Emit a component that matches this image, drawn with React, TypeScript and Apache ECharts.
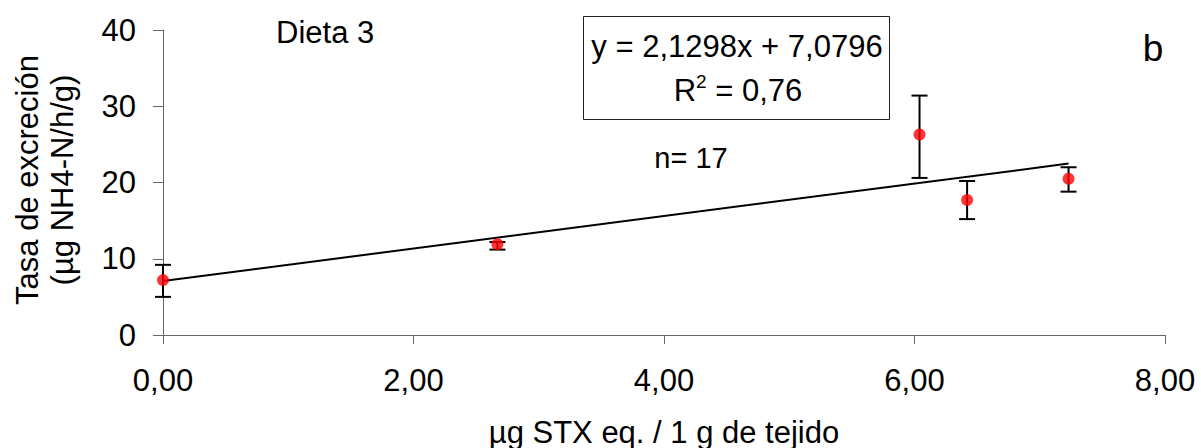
import React, { useEffect, useRef } from "react";
import * as echarts from "echarts";

const xValues = [0, 2.67, 6.04, 6.42, 7.23];
const yValues = [7.2, 11.9, 26.3, 17.7, 20.5];
const errLow = [5.0, 11.2, 20.6, 15.2, 18.8];
const errHigh = [9.2, 12.2, 31.4, 20.2, 22.0];
const slope = 2.1298;
const intercept = 7.0796;
const trendX = [0, 7.23];
const xTicks = [0, 2, 4, 6, 8];
const yTicks = [0, 10, 20, 30, 40];

const FONT = "'Liberation Sans', Arial, sans-serif";

export default function App() {
  const ref = useRef<HTMLDivElement>(null);
  useEffect(() => {
    if (!ref.current) return;
    const chart = echarts.init(ref.current, null, { renderer: "svg" });
    const fmt = (v: number) => v.toFixed(2).replace(".", ",");
    chart.setOption({
      animation: false,
      backgroundColor: "#ffffff",
      textStyle: { fontFamily: FONT },
      grid: { left: 163, right: 36, top: 30, bottom: 113, containLabel: false },
      xAxis: {
        type: "value",
        min: xTicks[0],
        max: xTicks[xTicks.length - 1],
        interval: 2,
        axisLine: { show: true, onZero: false, lineStyle: { color: "#666", width: 1 } },
        axisTick: { show: true, length: 9, lineStyle: { color: "#666", width: 1 } },
        splitLine: { show: false },
        axisLabel: {
          margin: 30,
          fontSize: 31,
          color: "#000",
          fontFamily: FONT,
          formatter: fmt,
        },
      },
      yAxis: {
        type: "value",
        min: yTicks[0],
        max: yTicks[yTicks.length - 1],
        interval: 10,
        axisLine: { show: true, onZero: false, lineStyle: { color: "#666", width: 1 } },
        axisTick: { show: true, length: 10, lineStyle: { color: "#666", width: 1 } },
        splitLine: { show: false },
        axisLabel: { margin: 27, fontSize: 31, color: "#000", fontFamily: FONT },
      },
      series: [
        {
          type: "line",
          data: trendX.map((x) => [x, slope * x + intercept]),
          symbol: "none",
          lineStyle: { color: "#000", width: 2 },
          z: 2,
        },
        {
          type: "custom",
          data: xValues.map((x, i) => [x, errLow[i], errHigh[i]]),
          encode: { x: 0, y: [1, 2] },
          z: 3,
          renderItem: (params: any, api: any) => {
            const x = api.value(0);
            const lo = api.coord([x, api.value(1)]);
            const hi = api.coord([x, api.value(2)]);
            const hw = 8;
            const style = { stroke: "#000", lineWidth: 2 };
            return {
              type: "group",
              children: [
                { type: "line", shape: { x1: lo[0], y1: lo[1], x2: hi[0], y2: hi[1] }, style },
                { type: "line", shape: { x1: lo[0] - hw, y1: lo[1], x2: lo[0] + hw, y2: lo[1] }, style },
                { type: "line", shape: { x1: hi[0] - hw, y1: hi[1], x2: hi[0] + hw, y2: hi[1] }, style },
              ],
            };
          },
        },
        {
          type: "scatter",
          data: xValues.map((x, i) => [x, yValues[i]]),
          symbol: "circle",
          symbolSize: 12,
          itemStyle: { color: "#ff0000" },
          z: 4,
        },
      ],
      graphic: [
        {
          type: "text",
          x: 45,
          y: 180,
          rotation: Math.PI / 2,
          style: {
            text: "Tasa de excreción\n(µg NH4-N/h/g)",
            fontSize: 31,
            lineHeight: 35,
            fontFamily: FONT,
            fill: "#000",
            align: "center",
            verticalAlign: "middle",
          },
        },
        {
          type: "text",
          x: 664,
          y: 432,
          style: {
            text: "µg STX eq. / 1 g de tejido",
            fontSize: 31,
            fontFamily: FONT,
            fill: "#000",
            align: "center",
            verticalAlign: "middle",
          },
        },
        {
          type: "text",
          x: 276,
          y: 32,
          style: {
            text: "Dieta 3",
            fontSize: 31,
            fontFamily: FONT,
            fill: "#000",
            align: "left",
            verticalAlign: "middle",
          },
        },
        {
          type: "text",
          x: 1153,
          y: 48,
          style: {
            text: "b",
            fontSize: 37,
            fontFamily: FONT,
            fill: "#000",
            align: "center",
            verticalAlign: "middle",
          },
        },
        {
          type: "text",
          x: 691,
          y: 158,
          style: {
            text: "n= 17",
            fontSize: 29,
            fontFamily: FONT,
            fill: "#000",
            align: "center",
            verticalAlign: "middle",
          },
        },
        {
          type: "rect",
          shape: { x: 583.5, y: 16.5, width: 306, height: 103 },
          style: { fill: "#fff", stroke: "#222", lineWidth: 1 },
          z: 10,
        },
        {
          type: "text",
          x: 737,
          y: 46,
          z: 11,
          style: {
            text: "y = 2,1298x + 7,0796",
            fontSize: 31,
            fontFamily: FONT,
            fill: "#000",
            align: "center",
            verticalAlign: "middle",
          },
        },
        {
          type: "text",
          x: 738,
          y: 89,
          z: 11,
          style: {
            text: "{n|R}{s|2}{n| = 0,76}",
            fontFamily: FONT,
            fill: "#000",
            align: "center",
            verticalAlign: "middle",
            rich: {
              n: { fontSize: 31, fontFamily: FONT, fill: "#000", verticalAlign: "bottom", lineHeight: 34 },
              s: { fontSize: 19, fontFamily: FONT, fill: "#000", verticalAlign: "top", lineHeight: 34, padding: [0, 0, 14, 0] },
            },
          },
        },
      ],
    });
    return () => chart.dispose();
  }, []);
  return (
    <div
      ref={ref}
      style={{ position: "fixed", left: 0, top: 0, width: 1201, height: 448 }}
    />
  );
}
